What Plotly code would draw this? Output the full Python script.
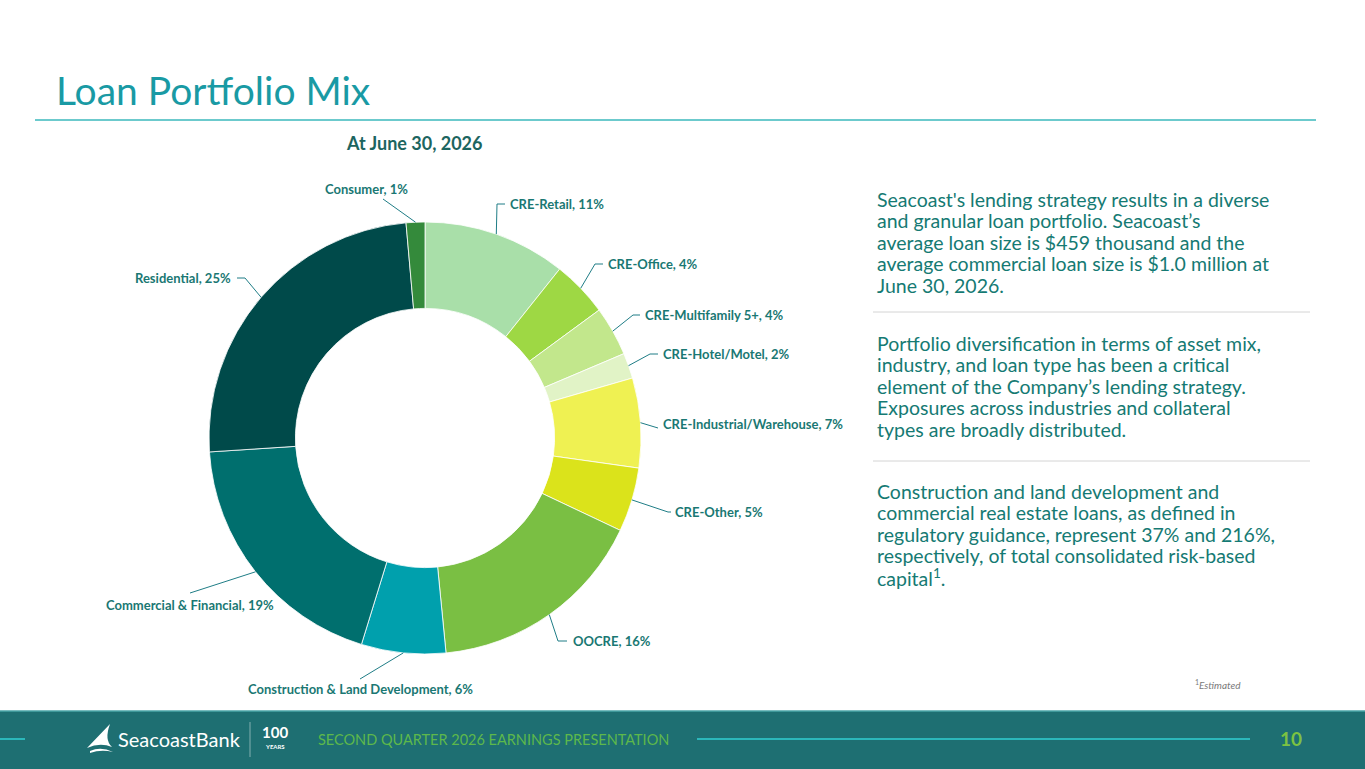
import math
import plotly.graph_objs as go

# ----------------------
# Data
# ----------------------
categories = ["CRE-Retail", "CRE-Office", "CRE-Multifamily 5+", "CRE-Hotel/Motel",
              "CRE-Industrial/Warehouse", "CRE-Other", "OOCRE",
              "Construction & Land Development", "Commercial & Financial",
              "Residential", "Consumer"]
shares = [10.7, 4.2, 3.7, 1.9, 6.7, 4.8, 16.4, 6.3, 19.2, 24.6, 1.4]
share_labels = [11, 4, 4, 2, 7, 5, 16, 6, 19, 25, 1]
colors = ["#a9dfa9", "#9ed844", "#c2e78c", "#e1f3c6", "#eff152", "#dbe31b",
          "#7abf43", "#00a0ad", "#006f6e", "#004a4a", "#348a3b"]

notes = [
    ["Seacoast's lending strategy results in a diverse",
     "and granular loan portfolio. Seacoast\u2019s",
     "average loan size is $459 thousand and the",
     "average commercial loan size is $1.0 million at",
     "June 30, 2026."],
    ["Portfolio diversification in terms of asset mix,",
     "industry, and loan type has been a critical",
     "element of the Company\u2019s lending strategy.",
     "Exposures across industries and collateral",
     "types are broadly distributed."],
    ["Construction and land development and",
     "commercial real estate loans, as defined in",
     "regulatory guidance, represent 37% and 216%,",
     "respectively, of total consolidated risk-based",
     "capital<sup>1</sup>."],
]

# ----------------------
# Layout constants (pixels)
# ----------------------
W, H = 1365, 769
cx, cy, R = 425, 438, 216
teal_text = "#1a7873"
font_main = "Lato"

# label placement: text x, y, anchor, elbow point (or None), line end
label_pos = [
    (508, 204, "left", (497, 204), (505, 204)),
    (606, 264, "left", (595, 264), (603, 264)),
    (643, 315, "left", (633, 315), (640, 315)),
    (661, 354, "left", (650, 354), (658, 354)),
    (661, 424, "left", None, (658, 428)),
    (673, 512, "left", (668, 512), (671, 512)),
    (571, 641, "left", (558, 641), (567, 641)),
    (360, 689, "center", None, (360, 679)),
    (190, 605, "center", None, (190, 593)),
    (233, 278, "right", (245, 278), (237, 278)),
    (366, 189, "center", None, (383, 199)),
]

fig = go.Figure()

# Donut
fig.add_trace(go.Pie(
    labels=categories, values=shares, sort=False, direction="clockwise",
    rotation=0, hole=0.6, textinfo="none", hoverinfo="label+percent",
    marker=dict(colors=colors, line=dict(color="white", width=0.8)),
    domain=dict(x=[(cx - R) / W, (cx + R) / W],
                y=[(H - cy - R) / H, (H - cy + R) / H]),
    showlegend=False,
))

# pixel-space overlay for shapes and text
fig.add_trace(go.Scatter(x=[0, W], y=[0, H], mode="markers",
                         marker=dict(opacity=0), hoverinfo="skip", showlegend=False))

shapes = []
annotations = []

# Leader lines + labels
total = sum(shares)
cum = 0
for i, (name, v) in enumerate(zip(categories, shares)):
    mid = (cum + v / 2) / total * 2 * math.pi
    cum += v
    ax_, ay_ = cx + R * math.sin(mid), cy - R * math.cos(mid)
    tx, ty, anchor, elbow, end = label_pos[i]
    pts = [(ax_, ay_)] + ([elbow] if elbow else []) + [end]
    path = "M " + " L ".join(f"{px:.1f},{py:.1f}" for px, py in pts)
    shapes.append(dict(type="path", path=path, xref="x", yref="y",
                       line=dict(color="#1f7d86", width=1)))
    annotations.append(dict(x=tx, y=ty, xref="x", yref="y", showarrow=False,
                            text=f"<b>{name}, {share_labels[i]}%</b>",
                            xanchor=anchor, yanchor="middle",
                            font=dict(family=font_main, size=13, color=teal_text)))

# Title and rule
annotations.append(dict(x=54, y=90, xref="x", yref="y", showarrow=False,
                        text="Loan Portfolio Mix", xanchor="left", yanchor="middle",
                        font=dict(family=font_main, size=39, color="#199aa4")))
shapes.append(dict(type="line", x0=35, x1=1316, y0=120, y1=120, xref="x", yref="y",
                   line=dict(color="#3bb9bd", width=1.5)))
annotations.append(dict(x=414, y=143, xref="x", yref="y", showarrow=False,
                        text="<b>At June 30, 2026</b>", xanchor="center", yanchor="middle",
                        font=dict(family=font_main, size=18, color="#1c6560")))

# Right-hand commentary
para_top = [199, 343, 491]
for top, lines in zip(para_top, notes):
    for j, line in enumerate(lines):
        annotations.append(dict(x=875, y=top + j * 21.6, xref="x", yref="y",
                                showarrow=False, text=line, xanchor="left",
                                yanchor="middle",
                                font=dict(family=font_main, size=19.5, color="#157a73")))
for yy in [312, 461]:
    shapes.append(dict(type="line", x0=873, x1=1310, y0=yy, y1=yy, xref="x", yref="y",
                       line=dict(color="#d4d4d4", width=1)))
annotations.append(dict(x=1243, y=684, xref="x", yref="y", showarrow=False,
                        text="<sup>1</sup><i>Estimated</i>", xanchor="right",
                        yanchor="middle",
                        font=dict(family=font_main, size=10, color="#7a7a7a")))

# Footer band
shapes.append(dict(type="rect", x0=0, x1=W, y0=711, y1=H, xref="x", yref="y",
                   fillcolor="#1e6f72", line=dict(width=0), layer="below"))
shapes.append(dict(type="line", x0=0, x1=W, y0=711, y1=711, xref="x", yref="y",
                   line=dict(color="#4aa6a8", width=1.5)))
shapes.append(dict(type="line", x0=0, x1=25, y0=739, y1=739, xref="x", yref="y",
                   line=dict(color="#2cb7ba", width=2)))
shapes.append(dict(type="line", x0=697, x1=1250, y0=739, y1=739, xref="x", yref="y",
                   line=dict(color="#2cb7ba", width=2)))
# sail mark
shapes.append(dict(type="path", xref="x", yref="y",
                   path="M 110,724 L 87,748 Q 100,742 112,747 Q 104,740 110,724 Z",
                   fillcolor="white", line=dict(width=0)))
shapes.append(dict(type="path", xref="x", yref="y",
                   path="M 90,751 Q 101,746 113,752 Q 101,749 90,753 Z",
                   fillcolor="white", line=dict(width=0)))
annotations.append(dict(x=116, y=739, xref="x", yref="y", showarrow=False,
                        text="SeacoastBank", xanchor="left", yanchor="middle",
                        font=dict(family=font_main, size=20, color="white")))
shapes.append(dict(type="line", x0=250, x1=250, y0=722, y1=757, xref="x", yref="y",
                   line=dict(color="rgba(255,255,255,0.45)", width=1)))
annotations.append(dict(x=275, y=732, xref="x", yref="y", showarrow=False,
                        text="<b>100</b>", xanchor="center", yanchor="middle",
                        font=dict(family=font_main, size=15, color="white")))
annotations.append(dict(x=275, y=746, xref="x", yref="y", showarrow=False,
                        text="<b>YEARS</b>", xanchor="center", yanchor="middle",
                        font=dict(family=font_main, size=6, color="white")))
annotations.append(dict(x=316, y=739, xref="x", yref="y", showarrow=False,
                        text="SECOND QUARTER 2026 EARNINGS PRESENTATION",
                        xanchor="left", yanchor="middle",
                        font=dict(family=font_main, size=14.5, color="#5db84b")))
annotations.append(dict(x=1291, y=738, xref="x", yref="y", showarrow=False,
                        text="<b>10</b>", xanchor="center", yanchor="middle",
                        font=dict(family=font_main, size=19, color="#7cc242")))

fig.update_layout(
    width=W, height=H,
    margin=dict(l=0, r=0, t=0, b=0),
    paper_bgcolor="white", plot_bgcolor="rgba(0,0,0,0)",
    xaxis=dict(range=[0, W], visible=False, fixedrange=True, domain=[0, 1]),
    yaxis=dict(range=[H, 0], visible=False, fixedrange=True, domain=[0, 1]),
    shapes=shapes, annotations=annotations,
)

# drop the default page margin so the slide fills the window
fig.write_html("out.html", config={"displayModeBar": False},
               post_script="document.body.style.margin='0';")
